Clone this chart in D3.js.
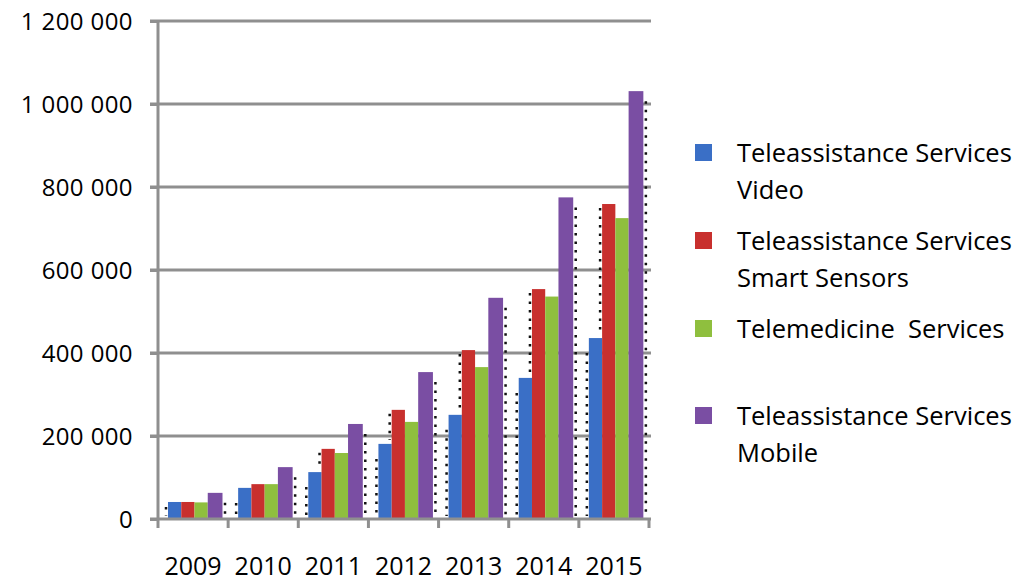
<!DOCTYPE html>
<html>
<head>
<meta charset="utf-8">
<script src="https://cdn.jsdelivr.net/npm/d3@7"></script>
<style>
  body { margin: 0; background: #fff; }
  text { font-family: "Open Sans", "Noto Sans", sans-serif; fill: #000; white-space: pre; }
</style>
</head>
<body>
<script>
// chart data
const years = ["2009", "2010", "2011", "2012", "2013", "2014", "2015"];
const seriesNames = ["video", "sensors", "telemedicine", "mobile"];
const video = [41000, 75000, 113000, 181000, 251000, 340000, 436000];
const sensors = [41000, 84000, 169000, 263000, 407000, 554000, 759000];
const telemedicine = [40000, 84000, 159000, 234000, 366000, 536000, 725000];
const mobile = [63000, 125000, 229000, 354000, 533000, 775000, 1031000];
const yTicks = [0, 200000, 400000, 600000, 800000, 1000000, 1200000];
const legendLines = [
  ["Teleassistance Services", "Video"],
  ["Teleassistance Services", "Smart Sensors"],
  ["Telemedicine  Services"],
  ["Teleassistance Services", "Mobile"]
];
const colors = ["#3a6fc6", "#c8302e", "#8fbf3e", "#7a4ea3"];

const values = [video, sensors, telemedicine, mobile];

const width = 1024, height = 581;
const svg = d3.select("body").append("svg")
  .attr("width", width)
  .attr("height", height);

const x = d3.scaleBand().domain(years).range([158, 649]);
const xs = d3.scaleBand().domain(seriesNames).range([10, 63]);
const y = d3.scaleLinear().domain([0, 1200000]).range([519, 21]);

const fmt = v => d3.format(",")(v).replace(/,/g, " ");

// gridlines
svg.append("g")
  .selectAll("line")
  .data(yTicks.slice(1))
  .join("line")
  .attr("x1", 150).attr("x2", 651)
  .attr("y1", d => y(d)).attr("y2", d => y(d))
  .attr("stroke", "#8f8f8f")
  .attr("stroke-width", 3);

// y axis
const yAxis = svg.append("g")
  .attr("transform", "translate(158,0)")
  .call(d3.axisLeft(y).tickValues(yTicks).tickFormat(fmt).tickSize(8).tickPadding(17));
yAxis.select(".domain").attr("stroke", "#8f8f8f").attr("stroke-width", 3)
  .attr("d", "M0," + y(1200000) + "V" + y(0));
yAxis.selectAll(".tick line").attr("stroke", "#8f8f8f").attr("stroke-width", 3);
yAxis.selectAll(".tick text")
  .style("font-size", "24px")
  .style("letter-spacing", "0.4px")
  .attr("fill", "#000")
  .attr("dy", "0.36em");

// bars
const groups = svg.append("g")
  .selectAll("g")
  .data(years)
  .join("g")
  .attr("transform", d => `translate(${x(d)},0)`);

groups.selectAll("rect")
  .data((d, i) => seriesNames.map((s, j) => ({ s, v: values[j][i], c: colors[j] })))
  .join("rect")
  .attr("x", d => xs(d.s))
  .attr("width", d => d.s === "mobile" ? xs.bandwidth() + 1.5 : xs.bandwidth())
  .attr("y", d => y(d.v))
  .attr("height", d => y(0) - y(d.v))
  .attr("fill", d => d.c);

// dotted outline artefacts beside each group
const dots = svg.append("g")
  .attr("stroke", "#111")
  .attr("stroke-width", 2.5)
  .attr("stroke-dasharray", "2.5,6");
years.forEach((yr, i) => {
  const gx = x(yr);
  const right = gx + xs("mobile") + xs.bandwidth() + 4;
  dots.append("line")
    .attr("x1", right).attr("x2", right)
    .attr("y1", y(mobile[i]) + 10).attr("y2", y(0) - 3);
  const left = gx + xs("video") - 2;
  dots.append("line")
    .attr("x1", left).attr("x2", left)
    .attr("y1", Math.min(y(video[i]) + 15, y(0) - 12)).attr("y2", y(0) - 3);
  if (sensors[i] > video[i] + 40000) {
    const lr = gx + xs("sensors") - 2;
    dots.append("line")
      .attr("x1", lr).attr("x2", lr)
      .attr("y1", y(sensors[i]) + 4).attr("y2", y(video[i]) - 4);
  }
});

// x axis
const xAxis = svg.append("g")
  .attr("transform", "translate(0,519)");
xAxis.append("line")
  .attr("x1", 150).attr("x2", 651)
  .attr("stroke", "#8f8f8f").attr("stroke-width", 3);
xAxis.selectAll(".xt")
  .data(years.concat(["end"]))
  .join("line")
  .attr("class", "xt")
  .attr("x1", (d, i) => i < years.length ? x(d) : x(years[years.length - 1]) + x.bandwidth())
  .attr("x2", (d, i) => i < years.length ? x(d) : x(years[years.length - 1]) + x.bandwidth())
  .attr("y1", 0).attr("y2", 9)
  .attr("stroke", "#8f8f8f").attr("stroke-width", 3);
xAxis.selectAll("text")
  .data(years)
  .join("text")
  .attr("x", d => x(d) + x.bandwidth() / 2)
  .attr("y", 56)
  .attr("text-anchor", "middle")
  .style("font-size", "25px")
  .text(d => d);

// legend
const legendTop = [153, 241, 329, 416];
const legend = svg.append("g");
legendLines.forEach((lines, i) => {
  legend.append("rect")
    .attr("x", 695).attr("y", legendTop[i] - 9)
    .attr("width", 17).attr("height", 17)
    .attr("fill", colors[i]);
  lines.forEach((t, k) => {
    legend.append("text")
      .attr("x", 737)
      .attr("y", legendTop[i] + 37 * k)
      .attr("dy", "0.36em")
      .style("font-size", "25.5px")
      .text(t);
  });
});
</script>
</body>
</html>
